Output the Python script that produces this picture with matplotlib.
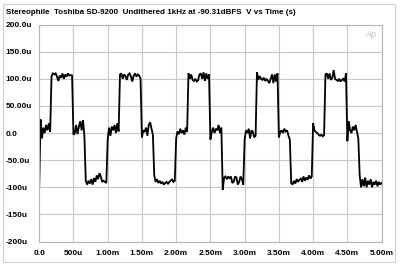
import matplotlib
matplotlib.use("Agg")
import matplotlib.pyplot as plt
import numpy as np
from matplotlib.patches import Rectangle

TITLE = "Stereophile  Toshiba SD-9200  Undithered 1kHz at -90.31dBFS  V vs Time (s)"

# sample spacing 0.02 ms, values in microvolts
cycle1 = [-100, 25, -10, 10, 0, 15, 5, 18, 2,
          105, 110, 108, 110, 104, 96, 106, 102, 110, 100, 108, 104, 110, 106, 107, 106,
          -3, 0, 15, -2, 12, 22, 5, 24, -5,
          -88, -95, -88, -93, -85, -95, -83, -90, -78, -85, -74, -80, -90, -88, -90, -92]
cycle2 = [-12, 10, -5, 12, 5, 15, 0, 18, 3,
          108, 110, 100, 108, 105, 98, 108, 110, 104, 95, 106, 110, 104, 108, 106, 100,
          -8, 5, 2, 10, -5, 15, 20, 8, -3,
          -78, -90, -85, -92, -88, -93, -90, -95, -92, -90, -94, -90, -88, -85, -90, -88]
cycle3 = [-10, 3, -2, 8, 0, 5, -3, 10, 2,
          110, 100, 108, 98, 96, 100, 95, 97, 108, 110, 100, 112, 96, 110, 100, 108,
          -12, 2, 10, 0, 8, 5, 15, 0, 10,
          -105, -82, -80, -85, -80, -84, -80, -92, -90, -80, -82, -95, -90, -80, -85, -95]
cycle4 = [-12, 5, 0, 8, -10, 5, 2, -8, -5,
          112, 98, 105, 100, 98, 102, 96, 100, 96, 92, 100, 108, 92, 108, 95, 110,
          -8, 2, 5, 0, 8, 3, 5, -5, -12,
          -92, -95, -88, -93, -85, -90, -86, -84, -90, -80, -88, -82, -86, -78, -84, -80]
cycle5 = [18, 5, 2, 0, -3, -5, -3, -6, -4,
          108, 110, 100, 110, 98, 102, 116, 100, 98, 96, 100, 95, 98, 100, 95, 110,
          -15, 22, 5, 0, 12, 5, 15, 2, -10,
          -78, -100, -85, -98, -82, -100, -88, -95, -85, -100, -90, -95, -88, -98, -90, -95]
last_value = [-92]

x_ticks = [0, 0.5, 1.0, 1.5, 2.0, 2.5, 3.0, 3.5, 4.0, 4.5, 5.0]
x_labels = ["0.0", "500u", "1.00m", "1.50m", "2.00m", "2.50m", "3.00m", "3.50m", "4.00m", "4.50m", "5.00m"]
y_ticks = [200, 150, 100, 50, 0, -50, -100, -150, -200]
y_labels = ["200.0u", "150.0u", "100.0u", "50.00u", "0.0", "-50.0u", "-100u", "-150u", "-200u"]

volts = np.array(cycle1 + cycle2 + cycle3 + cycle4 + cycle5 + last_value, dtype=float)
t_ms = np.linspace(0, 5.0, len(volts))

plt.rcParams['font.family'] = ['Liberation Sans', 'DejaVu Sans']

fig = plt.figure(figsize=(4.0, 2.64), dpi=100)
ax = fig.add_axes([0.098, 0.085, 0.856, 0.822])

ax.plot(t_ms, volts, color='black', linewidth=1.3, solid_joinstyle='miter')

ax.set_xlim(0, 5.0)
ax.set_ylim(-200, 200)
ax.set_xticks(x_ticks)
ax.set_xticklabels(x_labels, fontsize=6.0, fontweight='bold')
ax.set_yticks(y_ticks)
ax.set_yticklabels(y_labels, fontsize=6.0, fontweight='bold')
for lbl in ax.get_yticklabels():
    lbl.set_horizontalalignment('left')

ax.tick_params(axis='both', length=0)
ax.tick_params(axis='y', pad=24)
ax.tick_params(axis='x', pad=6)

ax.grid(True, color='#c8c8c8', linewidth=0.8)
ax.set_axisbelow(True)
for sp in ax.spines.values():
    sp.set_color('#b4b4b4')
    sp.set_linewidth(0.8)

ax.text(0.985, 0.975, "Ap", transform=ax.transAxes, ha='right', va='top',
        fontsize=6.5, style='italic', color='#c4c4c4')

fig.text(6 / 400, 1 - 13 / 264, TITLE, ha='left', va='center', fontsize=5.8, fontweight='bold')

fig.patches.append(Rectangle((3 / 400, 2 / 264), 392 / 400, 258 / 264, transform=fig.transFigure,
                             fill=False, edgecolor='#d0d0d0', linewidth=0.8))

fig.savefig("out.png", dpi=100)
